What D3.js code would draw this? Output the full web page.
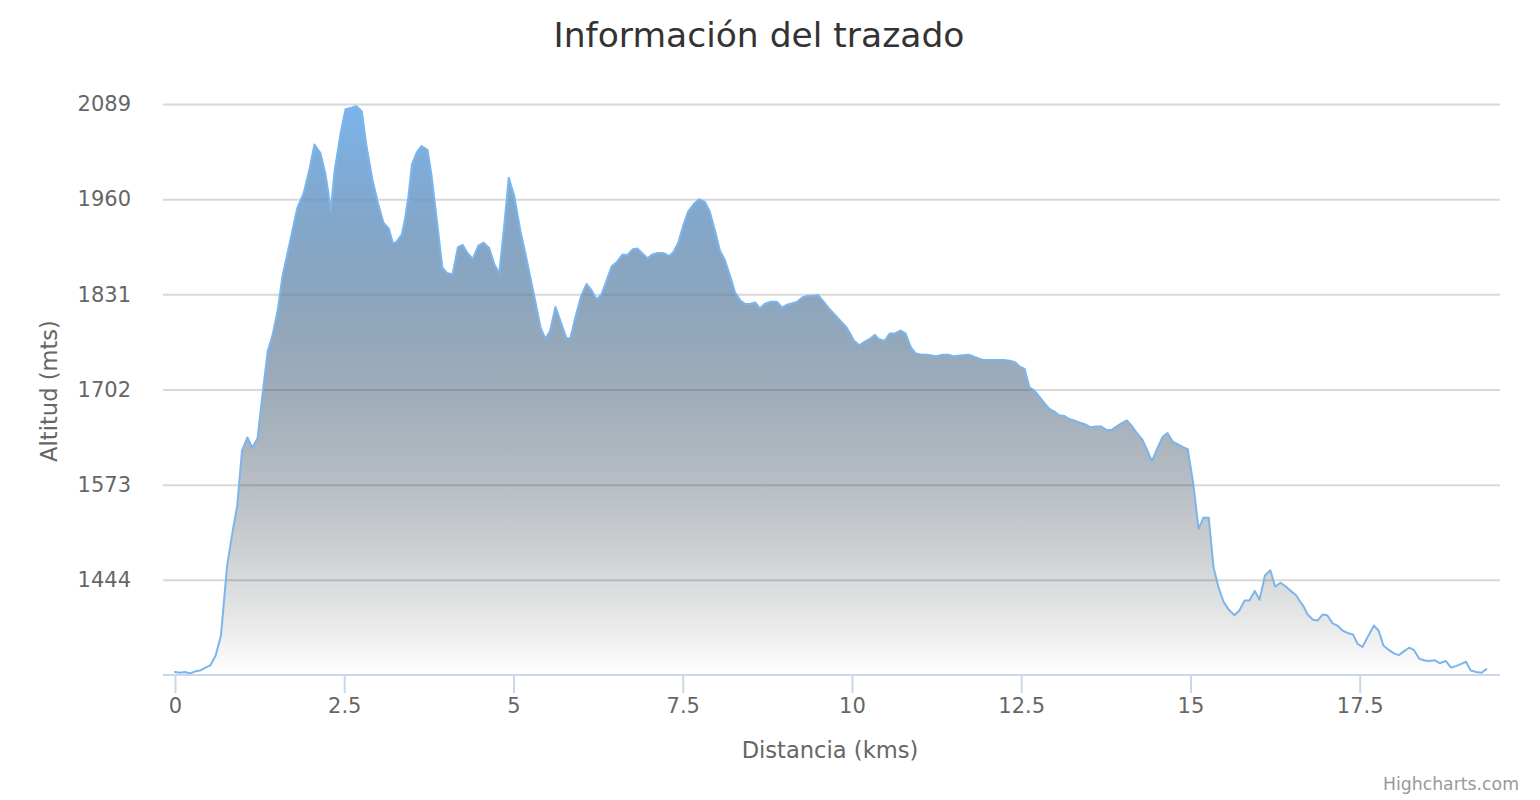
<!DOCTYPE html>
<html>
<head>
<meta charset="utf-8">
<script src="https://cdn.jsdelivr.net/npm/d3@7/dist/d3.min.js"></script>
<style>
  html, body { margin: 0; padding: 0; background: #fff; }
  svg { display: block; font-family: "DejaVu Sans", Verdana, sans-serif; }
</style>
</head>
<body>
<svg id="chart" width="1540" height="800"></svg>
<script>
const title = "Información del trazado";
const xAxisTitle = "Distancia (kms)";
const yAxisTitle = "Altitud (mts)";
const credits = "Highcharts.com";

const yTicks = [1444, 1573, 1702, 1831, 1960, 2089];
const xTicks = [0, 2.5, 5, 7.5, 10, 12.5, 15, 17.5];

const distance = [
  0, 0.075, 0.15, 0.22, 0.30, 0.37, 0.45, 0.52, 0.60, 0.68, 0.73, 0.77, 0.85, 0.92, 0.99,
  1.07, 1.14, 1.22, 1.29, 1.37, 1.44, 1.52, 1.59, 1.67, 1.74, 1.81, 1.90, 1.99, 2.06, 2.15,
  2.22, 2.26, 2.30, 2.36, 2.45, 2.52, 2.61, 2.68, 2.76, 2.83, 2.92, 3.00, 3.08, 3.16,
  3.22, 3.27, 3.35, 3.40, 3.45, 3.50, 3.57, 3.64, 3.73, 3.79, 3.87, 3.95, 4.02, 4.10,
  4.18, 4.25, 4.32, 4.40, 4.48, 4.56, 4.64, 4.72, 4.79, 4.86, 4.93, 5.01, 5.10, 5.17,
  5.24, 5.33, 5.40, 5.47, 5.54, 5.62, 5.70, 5.78, 5.84, 5.92, 6.00, 6.08, 6.15, 6.23,
  6.30, 6.38, 6.45, 6.52, 6.61,
  6.68, 6.76, 6.83, 6.91, 6.98, 7.05, 7.13, 7.21, 7.30, 7.36, 7.43, 7.51, 7.58, 7.66,
  7.74, 7.83, 7.90, 7.98, 8.05, 8.12, 8.20, 8.27, 8.35, 8.42, 8.49, 8.57, 8.64, 8.71,
  8.80, 8.89, 8.97, 9.04, 9.12, 9.19, 9.27, 9.35, 9.43, 9.50, 9.59, 9.66, 9.75, 9.83,
  9.92, 9.99,
  10.03, 10.11, 10.19, 10.27, 10.34, 10.40, 10.48, 10.56, 10.64, 10.72, 10.79, 10.87,
  10.94, 11.03, 11.11, 11.24, 11.34, 11.42, 11.50, 11.60, 11.72, 11.79, 11.87, 11.94,
  12.04, 12.14, 12.24, 12.33, 12.41, 12.48, 12.55, 12.62, 12.69, 12.77, 12.84, 12.91,
  12.99, 13.06, 13.14, 13.21, 13.28,
  13.37, 13.44, 13.52, 13.61, 13.68, 13.76, 13.83, 13.91, 13.98, 14.06, 14.13, 14.20,
  14.29, 14.36, 14.43, 14.51, 14.59, 14.66, 14.74, 14.81, 14.89, 14.96, 15.04, 15.12,
  15.19, 15.27, 15.34, 15.42, 15.49, 15.57, 15.65, 15.72, 15.80, 15.87, 15.95, 16.02,
  16.10, 16.18, 16.25, 16.33, 16.41, 16.48, 16.56,
  16.61, 16.67, 16.73, 16.81, 16.88, 16.95, 17.02, 17.10, 17.17, 17.25, 17.32, 17.40,
  17.47, 17.54, 17.62, 17.71, 17.78, 17.85, 17.93, 18.01, 18.08, 18.15, 18.23, 18.30,
  18.38, 18.45, 18.52, 18.61, 18.68, 18.77, 18.85, 18.92, 19.00, 19.07, 19.14, 19.22,
  19.30, 19.37
];

const altitude = [
  1319, 1318, 1319, 1317, 1320, 1321, 1325, 1328, 1341, 1369, 1422, 1463, 1509, 1545, 1619,
  1637, 1623, 1636, 1693, 1754, 1775, 1811, 1857, 1890, 1920, 1949, 1968, 2002, 2034, 2022,
  1995, 1972, 1944, 2000, 2051, 2082, 2084, 2086, 2079, 2031, 1985, 1954, 1928, 1920,
  1900, 1902, 1912, 1934, 1965, 2007, 2023, 2032, 2027, 1992, 1930, 1867, 1860, 1858,
  1895, 1898, 1887, 1879, 1897, 1901, 1894, 1871, 1860, 1921, 1989, 1965, 1918, 1889,
  1858, 1818, 1786, 1771, 1781, 1814, 1793, 1772, 1771, 1802, 1829, 1845, 1837, 1824,
  1831, 1851, 1869, 1874, 1885,
  1884, 1892, 1893, 1886, 1880, 1885, 1887, 1887, 1883, 1888, 1900, 1925, 1943, 1953,
  1960, 1956, 1943, 1916, 1890, 1878, 1856, 1834, 1823, 1818, 1818, 1820, 1812, 1818,
  1821, 1821, 1813, 1817, 1819, 1821, 1827, 1829, 1829, 1830, 1820, 1812, 1803, 1795,
  1786, 1775,
  1768, 1762, 1767, 1771, 1776, 1770, 1768, 1778, 1778, 1782, 1778, 1759,
  1751, 1749, 1749, 1747, 1749, 1749, 1747, 1748, 1749, 1747, 1744, 1742,
  1742, 1742, 1742, 1741, 1739, 1733, 1730, 1705, 1701, 1692, 1684, 1676,
  1672, 1667, 1666, 1662, 1660,
  1657, 1655, 1651, 1652, 1652, 1647, 1647, 1652, 1656, 1660, 1653, 1644,
  1634, 1620, 1605, 1622, 1638, 1643, 1631, 1628, 1624, 1621, 1575, 1513,
  1528, 1528, 1461, 1432, 1414, 1403, 1396, 1402, 1416, 1416, 1429, 1417,
  1450, 1457, 1435, 1440, 1435, 1429, 1423,
  1416, 1408, 1397, 1390, 1389, 1397, 1396, 1385, 1382, 1375, 1372, 1370,
  1357, 1353, 1367, 1382, 1375, 1355, 1349, 1344, 1342, 1347, 1352, 1349,
  1337, 1335, 1334, 1335, 1331, 1334, 1325, 1327, 1330, 1333, 1321, 1319,
  1318, 1323
];

const yMin = 1315, yMax = 2089;
const xMin = -0.177, xMax = 19.572;

const plot = { left: 163, right: 1500, top: 104, bottom: 675 };

const svg = d3.select("#chart");
const x = d3.scaleLinear().domain([xMin, xMax]).range([plot.left, plot.right]);
const y = d3.scaleLinear().domain([yMin, yMax]).range([plot.bottom, plot.top]);

const data = distance.map((d, i) => ({ d, a: altitude[i] }));

// gradient
const defs = svg.append("defs");
const grad = defs.append("linearGradient").attr("id", "areaGrad")
  .attr("x1", 0).attr("y1", 0).attr("x2", 0).attr("y2", 1);
grad.append("stop").attr("offset", 0).attr("stop-color", "#7cb5ec").attr("stop-opacity", 1);
grad.append("stop").attr("offset", 1).attr("stop-color", "#000000").attr("stop-opacity", 0);

// title
svg.append("text")
  .attr("x", 759).attr("y", 47)
  .attr("text-anchor", "middle")
  .attr("fill", "#333333")
  .style("font-size", "34.5px")
  .text(title);

// y gridlines
const yAxis = d3.axisLeft(y).tickValues(yTicks).tickSize(-(plot.right - plot.left)).tickPadding(32).tickFormat(d3.format("d"));
const gy = svg.append("g").attr("transform", `translate(${plot.left},0)`).call(yAxis);
gy.select(".domain").remove();
gy.selectAll(".tick line").attr("stroke", "#d8d8d8").attr("stroke-width", 2);
gy.selectAll(".tick text")
  .attr("fill", "#666666")
  .style("font-size", "21px")
  .style("font-family", "'DejaVu Sans', Verdana, sans-serif");

// area
const area = d3.area().x(p => x(p.d)).y0(y(yMin)).y1(p => y(p.a)).curve(d3.curveLinear);
svg.append("path").datum(data).attr("d", area).attr("fill", "url(#areaGrad)");

const line = d3.line().x(p => x(p.d)).y(p => y(p.a)).curve(d3.curveLinear);
svg.append("path").datum(data).attr("d", line)
  .attr("fill", "none").attr("stroke", "#7cb5ec").attr("stroke-width", 2)
  .attr("stroke-linejoin", "round").attr("stroke-linecap", "round");

// x axis
const xAxis = d3.axisBottom(x).tickValues(xTicks).tickSize(18).tickPadding(5)
  .tickFormat(d => String(d));
const gx = svg.append("g").attr("transform", `translate(0,${plot.bottom})`).call(xAxis);
gx.select(".domain").attr("stroke", "#ccd6eb").attr("stroke-width", 2)
  .attr("d", `M${plot.left},0H${plot.right}`);
gx.selectAll(".tick line").attr("stroke", "#ccd6eb").attr("stroke-width", 2);
gx.selectAll(".tick text")
  .attr("fill", "#666666")
  .style("font-size", "21px")
  .style("font-family", "'DejaVu Sans', Verdana, sans-serif");

// axis titles
svg.append("text")
  .attr("x", 830).attr("y", 758)
  .attr("text-anchor", "middle")
  .attr("fill", "#666666")
  .style("font-size", "22.6px")
  .text(xAxisTitle);

svg.append("text")
  .attr("transform", `translate(57,391) rotate(-90)`)
  .attr("text-anchor", "middle")
  .attr("fill", "#666666")
  .style("font-size", "22.6px")
  .text(yAxisTitle);

// credits
svg.append("text")
  .attr("x", 1519).attr("y", 790)
  .attr("text-anchor", "end")
  .attr("fill", "#999999")
  .style("font-size", "17.3px")
  .text(credits);
</script>
</body>
</html>
